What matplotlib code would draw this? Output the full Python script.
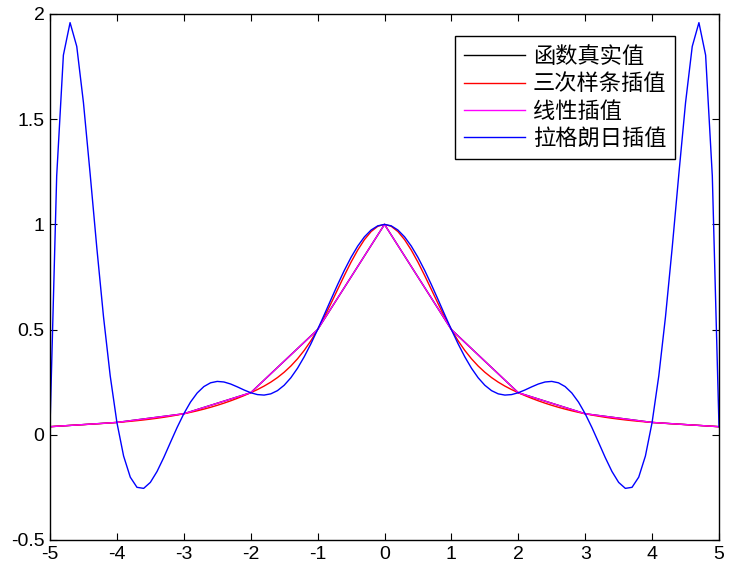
import numpy as np
import matplotlib
matplotlib.use("Agg")
import matplotlib.pyplot as plt

plt.rcParams['font.family'] = ['Liberation Sans', 'Noto Sans CJK SC', 'DejaVu Sans']
plt.rcParams['axes.unicode_minus'] = False

# Interpolation nodes (Runge function samples)
x_nodes = [-5, -4, -3, -2, -1, 0, 1, 2, 3, 4, 5]
y_nodes = [0.0385, 0.0588, 0.1, 0.2, 0.5, 1.0, 0.5, 0.2, 0.1, 0.0588, 0.0385]
labels = ['函数真实值', '三次样条插值', '线性插值', '拉格朗日插值']
xticks = [-5, -4, -3, -2, -1, 0, 1, 2, 3, 4, 5]
yticks = [-0.5, 0, 0.5, 1, 1.5, 2]
ytick_labels = ['-0.5', '0', '0.5', '1', '1.5', '2']

xn = np.array(x_nodes, float)
yn = np.array(y_nodes, float)
xf = np.linspace(-5, 5, 101)


def spline_notaknot(x, y, xq):
    n = len(x) - 1
    h = np.diff(x)
    A = np.zeros((n + 1, n + 1))
    b = np.zeros(n + 1)
    # not-a-knot conditions
    A[0, 0] = -1 / h[0]; A[0, 1] = 1 / h[0] + 1 / h[1]; A[0, 2] = -1 / h[1]
    A[n, n - 2] = -1 / h[n - 2]; A[n, n - 1] = 1 / h[n - 2] + 1 / h[n - 1]; A[n, n] = -1 / h[n - 1]
    for i in range(1, n):
        A[i, i - 1] = h[i - 1]
        A[i, i] = 2 * (h[i - 1] + h[i])
        A[i, i + 1] = h[i]
        b[i] = 6 * ((y[i + 1] - y[i]) / h[i] - (y[i] - y[i - 1]) / h[i - 1])
    M = np.linalg.solve(A, b)
    idx = np.clip(np.searchsorted(x, xq, side='right') - 1, 0, n - 1)
    x0 = x[idx]; x1 = x[idx + 1]; hh = h[idx]
    return (M[idx] * (x1 - xq) ** 3 / (6 * hh) + M[idx + 1] * (xq - x0) ** 3 / (6 * hh)
            + (y[idx] / hh - M[idx] * hh / 6) * (x1 - xq)
            + (y[idx + 1] / hh - M[idx + 1] * hh / 6) * (xq - x0))


def lagrange(x, y, xq):
    res = np.zeros_like(xq)
    for i in range(len(x)):
        li = np.ones_like(xq)
        for j in range(len(x)):
            if j != i:
                li *= (xq - x[j]) / (x[i] - x[j])
        res += y[i] * li
    return res


y_spl = spline_notaknot(xn, yn, xf)
y_lin = np.interp(xf, xn, yn)
y_lag = lagrange(xn, yn, xf)

fig = plt.figure(figsize=(7.29, 5.71), dpi=100)
ax = fig.add_axes([50 / 729, 1 - 540 / 571, (719 - 50) / 729, (540 - 14) / 571])

ax.plot(xn, yn, color='black', lw=1, label=labels[0])
ax.plot(xf, y_spl, color='red', lw=1, label=labels[1])
ax.plot(xf, y_lin, color='magenta', lw=1, label=labels[2])
ax.plot(xf, y_lag, color='blue', lw=1, label=labels[3])

ax.set_xlim(-5, 5)
ax.set_ylim(-0.5, 2)
ax.set_xticks(xticks)
ax.set_xticklabels([str(v) for v in xticks])
ax.set_yticks(yticks)
ax.set_yticklabels(ytick_labels)
ax.tick_params(direction='in', top=True, right=True, length=5, width=0.8,
               labelsize=14, pad=4)
for s in ax.spines.values():
    s.set_linewidth(1.0)

leg = ax.legend(loc='upper right', bbox_to_anchor=((675 - 50) / 669, 1 - (36 - 14) / 526),
                prop={'family': ['Noto Sans CJK SC'], 'size': 16},
                frameon=True, fancybox=False, edgecolor='black', framealpha=1,
                handlelength=2.75, handletextpad=0.35, labelspacing=0.2,
                borderpad=0.4, borderaxespad=0)
leg.get_frame().set_linewidth(1.0)

fig.savefig('out.png', dpi=100)
